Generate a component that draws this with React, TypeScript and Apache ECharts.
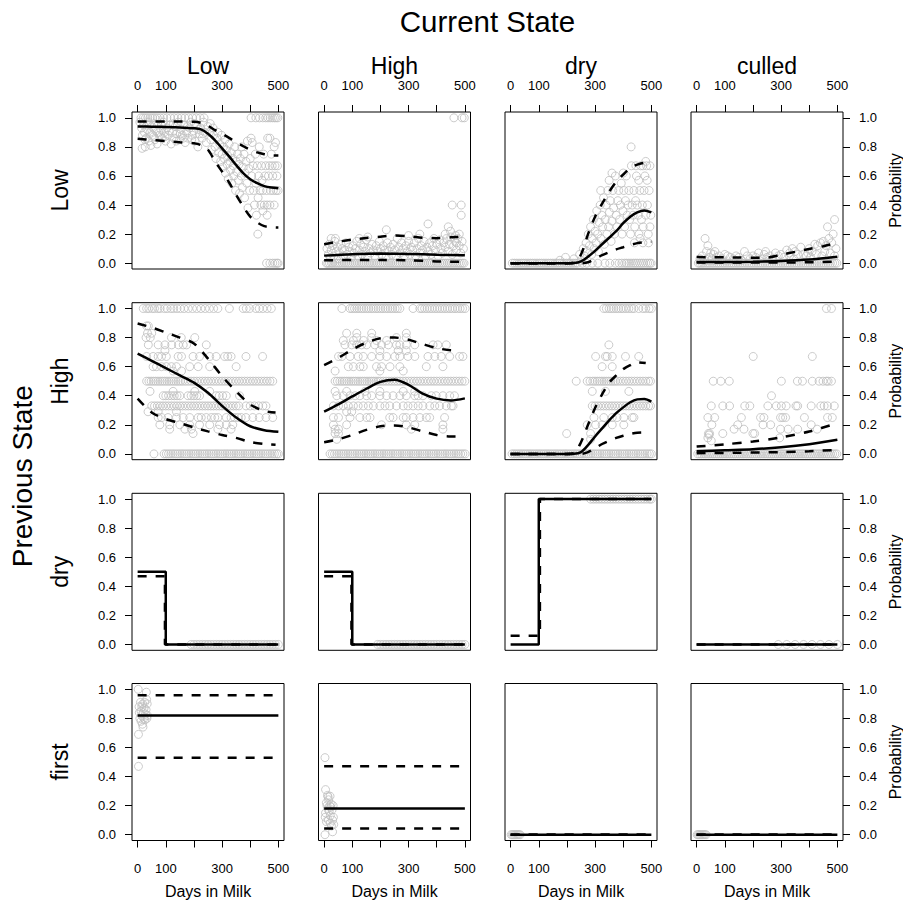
import React, { useEffect, useRef } from "react";
import * as echarts from "echarts";

type Pt = [number, number];
type Row = [number, number[]]; // [y, x values]

const ROW_NAMES = ["Low", "High", "dry", "first"];
const COL_NAMES = ["Low", "High", "dry", "culled"];
const X_TICKS = [0, 100, 200, 300, 400, 500];
const X_LABELS = [0, 100, 300, 500];
const Y_TICKS = [0, 0.2, 0.4, 0.6, 0.8, 1.0];

// ---------- Previous Low ----------
const LL_pts: Pt[] = [
  [8,0.97],[14,0.93],[16,0.79],[17,0.88],[21,0.95],[24,0.9],[26,0.85],[27,0.8],[30,0.86],[33,0.92],[37,0.97],[40,0.84],[42,0.95],[44,0.9],[47,0.81],[50,0.94],[54,0.88],[57,0.87],[58,0.96],[62,0.85],[65,0.91],[69,0.82],[72,0.95],[75,0.9],[77,0.88],[82,0.92],[85,0.95],[87,0.86],[91,0.97],[95,0.9],[97,0.87],[99,0.84],[104,0.93],[109,0.88],[112,0.91],[114,0.95],[119,0.82],[124,0.9],[127,0.96],[129,0.86],[134,0.94],[137,0.84],[139,0.89],[144,0.97],[149,0.85],[152,0.89],[154,0.92],[159,0.88],[162,0.86],[164,0.95],[169,0.83],[174,0.9],[177,0.94],[179,0.86],[184,0.93],[189,0.97],[192,0.85],[194,0.88],[199,0.91],[202,0.96],[204,0.84],[209,0.95],[214,0.8],[217,0.92],[219,0.89],[224,0.93],[229,0.86],[232,0.89],[234,0.97],[239,0.9],[244,0.83],[249,0.94],
  [255,0.9],[258,0.96],[260,0.85],[262,0.78],[268,0.93],[270,0.88],[275,0.8],[278,0.72],[282,0.86],[285,0.9],[288,0.76],[292,0.82],[295,0.7],[298,0.88],[300,0.75],[302,0.66],[305,0.8],[308,0.72],[310,0.85],[312,0.62],[315,0.78],[318,0.68],[320,0.74],[322,0.58],[325,0.82],[328,0.7],[330,0.64],[333,0.76],[335,0.55],[338,0.72],[340,0.67],[342,0.6],[345,0.8],[348,0.5],[350,0.7],[352,0.63],[355,0.75],[358,0.57],[360,0.68],[362,0.48],[365,0.72],[368,0.6],[370,0.8],[372,0.52],[375,0.66],[378,0.75],[380,0.45],[382,0.62],[385,0.7],[388,0.55],[390,0.84],[392,0.38],[395,0.65],[398,0.5],[400,0.72],[403,0.86],[407,0.83],
  [405,0.6],[410,0.67],[412,0.5],[415,0.4],[418,0.75],[420,0.55],[422,0.33],[425,0.67],[427,0.2],[428,0.45],[430,0.6],[432,0.8],[435,0.5],[438,0.4],[440,0.67],[442,0.57],[445,0.5],[448,0.75],[450,0.4],[452,0.6],[455,0.67],[458,0.5],[460,0.33],[462,0.86],[465,0.6],[468,0.67],[470,0.4],[472,0.5],[475,0.75],[478,0.67],[480,0.6],[482,0.5],[485,0.4],[488,0.67],[490,0.83],[492,0.5],[495,0.6],[497,0.67],[499,0.5],[485,0.8],[470,0.86],[445,0.36],[460,0.4]
];
const LL_rows: Row[] = [
  [1, [12,20,28,36,45,53,61,70,80,92,104,117,130,143,156,168,181,195,208,222,236,403,420,433,445,455,463,471,479,486,492,498]],
  [0, [458,470,480,488,495,499]]
];
const LL_fit: Pt[] = [[0,0.94],[50,0.939],[100,0.937],[150,0.934],[200,0.928],[225,0.92],[250,0.89],[275,0.845],[300,0.79],[325,0.735],[350,0.675],[375,0.62],[400,0.578],[425,0.55],[450,0.53],[475,0.52],[500,0.515]];
const LL_up: Pt[] = [[0,0.975],[50,0.975],[100,0.975],[150,0.974],[200,0.973],[225,0.965],[250,0.945],[275,0.915],[300,0.89],[325,0.862],[350,0.832],[375,0.805],[400,0.78],[425,0.762],[450,0.75],[475,0.742],[500,0.74]];
const LL_lo: Pt[] = [[0,0.856],[50,0.848],[100,0.84],[150,0.832],[200,0.825],[225,0.812],[250,0.78],[275,0.7],[300,0.63],[325,0.555],[350,0.47],[375,0.39],[400,0.32],[425,0.28],[450,0.255],[475,0.247],[500,0.245]];

const LH_pts: Pt[] = [
  [10,0.1],[15,0.06],[18,0.13],[22,0.04],[25,0.09],[30,0.12],[34,0.05],[38,0.15],[42,0.08],[47,0.11],[50,0.03],[55,0.07],[60,0.13],[64,0.1],[68,0.05],[73,0.09],[78,0.14],[82,0.06],[88,0.11],[92,0.08],[97,0.04],[102,0.12],[106,0.07],[111,0.1],[116,0.15],[120,0.05],[125,0.09],[130,0.13],[135,0.06],[140,0.11],[145,0.08],[150,0.16],[155,0.04],[160,0.1],[165,0.07],[170,0.13],[175,0.09],[180,0.05],[185,0.12],[190,0.08],[196,0.15],[200,0.1],[205,0.06],[210,0.12],[215,0.09],[220,0.04],[225,0.14],[230,0.08],[235,0.11],[240,0.06],[245,0.13],[250,0.09],[255,0.05],[260,0.17],[265,0.11],[270,0.07],[275,0.14],[280,0.1],[285,0.05],[290,0.12],[295,0.08],[300,0.15],[305,0.06],[310,0.11],[315,0.09],[320,0.14],[325,0.05],[330,0.1],[335,0.17],[340,0.07],[345,0.12],[350,0.09],[355,0.15],[360,0.05],[365,0.11],[370,0.08],[375,0.14],[380,0.06],[385,0.12],[390,0.17],[395,0.09],[400,0.13],[405,0.05],[410,0.16],[415,0.1],[420,0.07],[425,0.14],[430,0.11],[435,0.17],[440,0.08],[445,0.13],[450,0.18],[455,0.06],[460,0.12],[465,0.15],[470,0.09],[475,0.17],[480,0.12],[485,0.07],[490,0.15],[495,0.1],
  [221,0.23],[369,0.27],[441,0.25],[449,0.22],[470,0.14],[455,0.4],[487,0.4],[487,0.33],[25,0.17],[40,0.17],[125,0.17],[155,0.18],[300,0.19],[340,0.2],[430,0.2],[480,0.2],[467,0.19]
];
const LH_rows: Row[] = [
  [1, [461,490,498]],
  [0, [8,13,19,26,31,38,44,51,57,64,71,77,84,90,97,104,110,117,124,131,137,143,150,157,163,170,177,184,190,197,203,210,217,224,231,237,244,251,257,264,270,277,284,291,297,304,311,318,324,331,337,344,351,357,364,371,378,384,391,398,404,411,418,424,431,438,444,451,458,464,471,478,484,491,497]]
];
const LH_fit: Pt[] = [[0,0.052],[100,0.062],[200,0.066],[300,0.064],[400,0.058],[500,0.055]];
const LH_up: Pt[] = [[0,0.13],[50,0.148],[100,0.162],[150,0.173],[200,0.182],[250,0.19],[300,0.186],[350,0.175],[400,0.172],[450,0.178],[500,0.185]];
const LH_lo: Pt[] = [[0,0.02],[100,0.022],[200,0.022],[300,0.02],[400,0.012],[500,0.01]];

const LD_pts: Pt[] = [
  [195,0.04],[175,0.02],[225,0.03],[245,0.06],[250,0.02],[258,0.1],[262,0.05],[268,0.14],[272,0.08],[276,0.2],[280,0.12],[284,0.25],[288,0.06],[290,0.17],[294,0.3],[297,0.1],[300,0.22],[303,0.14],[306,0.36],[309,0.2],[312,0.08],[315,0.28],[318,0.4],[321,0.17],[324,0.33],[327,0.25],[330,0.45],[333,0.13],[336,0.3],[339,0.4],[342,0.2],[345,0.5],[348,0.25],[351,0.35],[354,0.43],[357,0.15],[360,0.29],[363,0.5],[366,0.38],[369,0.2],[372,0.6],[375,0.33],[378,0.25],[381,0.43],[384,0.5],[387,0.3],[390,0.4],[393,0.55],[396,0.2],[399,0.36],[402,0.5],[405,0.25],[408,0.43],[411,0.6],[414,0.33],[417,0.4],[420,0.5],[423,0.3],[426,0.2],[429,0.67],[432,0.4],[435,0.33],[438,0.5],[441,0.25],[444,0.43],[447,0.6],[450,0.4],[453,0.33],[456,0.2],[459,0.5],[462,0.67],[465,0.3],[468,0.4],[471,0.25],[474,0.5],[477,0.6],[480,0.33],[483,0.67],[486,0.4],[489,0.2],[492,0.5],[495,0.25],[498,0.33],
  [428,0.8],[480,0.7],[350,0.57],[400,0.62],[460,0.17],[490,0.14],[440,0.14],[470,0.14],[445,0.67],[470,0.67],[495,0.67],[455,0.57],[485,0.57],[320,0.5],[360,0.62]
];
const LD_rows: Row[] = [
  [0, [6,14,22,30,38,46,54,62,70,78,86,94,102,110,118,126,134,142,150,158,166,174,182,190,198,206,214,222,230,238,255,270,290,310,335,352,372,385,395,405,412,420,428,436,443,450,458,465,472,480,487,494,499]]
];
const LD_fit: Pt[] = [[0,0],[50,0],[100,0],[150,0],[200,0],[225,0.001],[250,0.012],[275,0.045],[300,0.085],[325,0.13],[350,0.175],[375,0.22],[400,0.275],[425,0.32],[450,0.35],[475,0.362],[500,0.35]];
const LD_up: Pt[] = [[0,0],[50,0],[100,0],[150,0],[200,0],[225,0.005],[250,0.06],[275,0.2],[300,0.32],[325,0.41],[350,0.49],[375,0.56],[400,0.61],[425,0.655],[450,0.678],[475,0.69],[500,0.69]];
const LD_lo: Pt[] = [[0,0],[50,0],[100,0],[150,0],[200,0],[250,0],[275,0.006],[300,0.03],[325,0.055],[350,0.075],[375,0.095],[400,0.11],[425,0.125],[450,0.138],[475,0.145],[500,0.147]];

const LC_pts: Pt[] = [
  [30,0.17],[40,0.12],[35,0.08],[50,0.07],[60,0.06],[80,0.05],[100,0.06],[120,0.04],[140,0.05],[170,0.08],[200,0.05],[220,0.07],[240,0.06],[260,0.05],[280,0.07],[300,0.06],[320,0.09],[340,0.1],[350,0.08],[370,0.11],[380,0.06],[400,0.1],[410,0.08],[420,0.13],[430,0.12],[440,0.14],[450,0.15],[460,0.12],[465,0.25],[470,0.17],[480,0.14],[485,0.2],[490,0.3],[495,0.1],
  [12,0.03],[20,0.05],[28,0.02],[45,0.04],[55,0.03],[70,0.04],[90,0.03],[110,0.05],[130,0.03],[150,0.04],[160,0.02],[180,0.05],[190,0.03],[210,0.04],[230,0.03],[250,0.04],[270,0.03],[290,0.05],[310,0.04],[330,0.05],[345,0.03],[360,0.06],[390,0.05],[405,0.04],[425,0.06],[445,0.05],[455,0.08],[475,0.07],[490,0.05],[65,0.08],[245,0.08],[330,0.07],[395,0.07]
];
const LC_rows: Row[] = [
  [0, [6,12,19,25,33,40,47,55,62,70,77,85,93,100,108,116,124,131,139,147,155,163,171,179,187,195,203,211,219,227,235,243,251,259,267,275,283,291,299,307,315,323,331,339,347,355,363,371,379,387,395,403,411,419,427,435,443,451,459,467,475,483,491,498]]
];
const LC_fit: Pt[] = [[0,0.008],[100,0.008],[200,0.01],[300,0.015],[400,0.025],[500,0.045]];
const LC_up: Pt[] = [[0,0.042],[50,0.041],[100,0.04],[150,0.039],[200,0.038],[250,0.039],[300,0.058],[350,0.078],[400,0.098],[450,0.117],[500,0.142]];
const LC_lo: Pt[] = [[0,0.004],[250,0.004],[400,0.006],[500,0.01]];

// ---------- Previous High ----------
const HL_pts: Pt[] = [];
const HL_rows: Row[] = [
  [1, [20,32,40,52,60,72,80,95,105,118,128,140,152,165,180,195,210,225,240,255,270,285,326,375,386,398,420,432,445,460,475]],
  [0.88, [32,38]],
  [0.83, [35,50]],
  [0.8, [30,45,120,155,203]],
  [0.75, [38,73,97,121,145,162,174,244]],
  [0.71, [97]],
  [0.67, [32,55,73,85,102,144,156,197,220,256,279,309,320,332,385,444]],
  [0.6, [55,67,85,102,120,138,185,215,256,350]],
  [0.57, [126,156]],
  [0.5, [32,40,48,56,64,72,80,88,96,104,112,120,128,136,144,152,160,170,180,190,200,210,220,230,240,250,260,270,280,290,300,310,320,330,340,350,360,370,380,390,400,410,420,430,440,450,460,470,480]],
  [0.43, [44,126,203,256]],
  [0.4, [91,100,110,120,130,140,150,179,190,200,210,220,279,290,302,315,362]],
  [0.33, [50,60,70,80,90,100,110,120,130,140,150,160,170,180,190,200,210,220,230,240,250,260,270,280,290,300,310,320,330,340,350,360,385,400,415,430,445,456]],
  [0.29, [37,73,138]],
  [0.25, [73,85,108,138,162,185,215,226,244,262,274,285,315,332,344,356,368,385,409,432,456,480]],
  [0.2, [79,114,150,185,220,256,291,315,338]],
  [0.17, [114,168,191,285,332]],
  [0.14, [197]],
  [0, [58,94,102,110,118,126,134,142,150,158,166,174,182,190,198,206,214,222,230,238,246,254,262,270,278,286,294,302,310,318,326,334,342,350,358,366,374,382,390,398,406,414,422,430,438,446,454,462,470,478,486,494,500]]
];
const HL_fit: Pt[] = [[0,0.69],[50,0.64],[100,0.59],[150,0.54],[200,0.49],[250,0.42],[300,0.33],[350,0.25],[400,0.19],[450,0.163],[500,0.152]];
const HL_up: Pt[] = [[0,0.897],[50,0.87],[100,0.835],[150,0.8],[200,0.76],[250,0.655],[300,0.535],[350,0.43],[400,0.34],[450,0.295],[490,0.285]];
const HL_lo: Pt[] = [[0,0.38],[50,0.285],[100,0.24],[150,0.212],[200,0.182],[250,0.155],[300,0.13],[350,0.11],[400,0.082],[450,0.068],[490,0.062]];

const HH_pts: Pt[] = [];
const HH_rows: Row[] = [
  [1, [63,92,100,108,116,124,133,141,150,158,167,175,184,192,201,209,218,226,235,243,252,260,269,316,340,348,357,366,375,384,393,402,411,420,429,438,447,456,465,474,483,492,501]],
  [0.83, [80,116,169,292]],
  [0.8, [116,169,257,292]],
  [0.78, [68,104,140,186,222]],
  [0.75, [74,98,116,133,151,180,204,228,257,269,292,322,387,404,434]],
  [0.71, [198,263,292]],
  [0.67, [51,63,92,121,139,169,198,222,251,269,298,322,369,393,416,446,481,493]],
  [0.6, [86,104,127,139,186,204,234,269,363,422]],
  [0.57, [39,198,281]],
  [0.5, [39,47,56,64,72,80,88,96,104,112,120,128,136,144,152,160,168,176,184,192,200,210,220,230,240,250,260,270,280,290,300,310,320,330,340,350,360,370,380,390,400,410,420,430,440,450,460,470,480,490,500]],
  [0.43, [39,80,145,198,281,322]],
  [0.4, [45,68,92,110,127,151,169,198,222,245,269,292,322,334,351,381,398,422,446,463]],
  [0.33, [33,51,68,86,104,121,139,157,175,198,216,233,257,281,298,316,334,351,375,393,410,434,452,458]],
  [0.29, [80,98]],
  [0.25, [33,51,92,127,151,163,233,245,281,292,316,340,363,375,428]],
  [0.2, [33,80,204,292,322,422]],
  [0.17, [39,51,310,422]],
  [0.14, [39,51]],
  [0.1, [45]],
  [0, [21,29,37,45,53,61,69,77,85,93,101,109,117,125,133,141,149,157,165,173,181,189,197,205,213,221,229,237,245,253,261,269,277,285,293,301,309,317,325,333,341,349,357,365,373,381,389,397,405,413,421,429,437,445,453,461,469,477,485,493,501]]
];
const HH_fit: Pt[] = [[0,0.29],[50,0.34],[100,0.395],[150,0.448],[200,0.495],[250,0.51],[300,0.475],[350,0.415],[400,0.38],[450,0.368],[500,0.382]];
const HH_up: Pt[] = [[0,0.61],[50,0.66],[100,0.718],[150,0.765],[200,0.795],[250,0.8],[300,0.785],[350,0.755],[400,0.728],[450,0.713],[480,0.712]];
const HH_lo: Pt[] = [[0,0.08],[50,0.1],[100,0.13],[150,0.165],[200,0.19],[250,0.195],[300,0.182],[350,0.155],[400,0.13],[450,0.12],[480,0.12]];

const HD_pts: Pt[] = [[199,0.14],[284,0.14],[284,0.1]];
const HD_rows: Row[] = [
  [1, [331,340,350,358,366,375,383,392,400,410,420,430,438,455,470,480,492,500]],
  [0.75, [349]],
  [0.67, [302,337,343,361,408,455]],
  [0.6, [325,361]],
  [0.5, [233,272,282,292,300,308,316,324,332,340,348,356,364,372,380,390,400,410,420,430,440,450,460,470,480,490,497]],
  [0.43, [290,337,420]],
  [0.33, [290,300,310,320,330,340,350,360,370,380,390,400,410,420,430,440,450,460,470,480,490,497]],
  [0.25, [296,331,361,378,402,432,438]],
  [0.2, [272,302,325,361,402]],
  [0, [5,13,21,29,37,45,53,61,69,77,85,93,101,109,117,125,133,141,149,157,165,173,181,189,197,205,213,221,229,237,245,253,261,269,277,285,293,301,309,317,325,333,341,349,357,365,373,381,389,397,405,413,421,429,437,445,453,461,469,477,485,493,500]]
];
const HD_fit: Pt[] = [[0,0],[50,0],[100,0],[150,0],[200,0],[225,0.001],[250,0.012],[275,0.06],[300,0.12],[325,0.175],[350,0.23],[375,0.28],[400,0.32],[425,0.355],[450,0.375],[475,0.378],[500,0.36]];
const HD_up: Pt[] = [[0,0],[50,0],[100,0],[150,0],[200,0],[225,0.005],[250,0.08],[275,0.2],[300,0.315],[325,0.41],[350,0.49],[375,0.54],[400,0.583],[425,0.61],[450,0.63],[480,0.625]];
const HD_lo: Pt[] = [[0,0],[50,0],[100,0],[150,0],[200,0],[250,0],[275,0.012],[300,0.038],[325,0.068],[350,0.09],[375,0.11],[400,0.125],[425,0.137],[450,0.145],[480,0.147]];

const HC_pts: Pt[] = [[40,0.11],[52,0.09],[42,0.14],[44,0.13],[295,0.11],[266,0.4]];
const HC_rows: Row[] = [
  [1, [461,479]],
  [0.67, [201,411]],
  [0.5, [59,86,116,301,358,376,411,435,449,461,467,479]],
  [0.33, [52,93,117,171,189,253,283,301,318,353,359,407,441,453,465,489]],
  [0.25, [40,64,159,227,239,298,306,316,383,465,482]],
  [0.2, [54,146,236,263,407]],
  [0.17, [133,168,298,325,359,428]],
  [0.14, [46,93,200,206]],
  [0, [4,11,18,26,33,41,48,56,63,71,78,86,93,101,108,116,123,131,138,146,153,161,168,176,183,191,198,206,213,221,228,236,243,251,258,266,273,281,288,296,303,311,318,326,333,341,348,356,363,371,378,386,393,401,408,416,423,431,438,446,453,461,468,476,483,491,498]]
];
const HC_fit: Pt[] = [[0,0.018],[100,0.025],[200,0.032],[300,0.045],[400,0.066],[500,0.097]];
const HC_up: Pt[] = [[0,0.05],[100,0.066],[200,0.085],[300,0.114],[400,0.154],[500,0.212]];
const HC_lo: Pt[] = [[0,0.005],[150,0.008],[300,0.012],[400,0.018],[500,0.028]];

// ---------- Previous dry ----------
const DL_rows: Row[] = [[0, [190,200,210,220,230,240,250,260,270,280,290,300,310,320,330,340,350,360,370,380,390,400,410,420,430,440,450,460,470,480,490,500]]];
const DL_fit: Pt[] = [[0,0.5],[100,0.5],[100,0],[500,0]];
const DL_lo: Pt[] = [[0,0.47],[97,0.47],[97,0],[500,0]];
const DH_rows: Row[] = [[0, [190,200,210,220,230,240,250,260,270,280,290,300,310,320,330,340,350,360,370,380,390,400,410,420,430,440,450,460,470,480,490,500]]];
const DH_fit: Pt[] = [[0,0.5],[100,0.5],[100,0],[500,0]];
const DH_lo: Pt[] = [[0,0.47],[97,0.47],[97,0],[500,0]];
const DD_rows: Row[] = [[1, [284,294,304,314,324,334,344,354,364,374,384,394,404,414,424,434,444,454,464,474,484,494,500]]];
const DD_fit: Pt[] = [[0,0],[100,0],[100,1],[500,1]];
const DD_lo: Pt[] = [[0,0.06],[104,0.06],[104,1],[500,1]];
const DC_rows: Row[] = [[0, [290,320,350,380,410,440,470,500]]];
const DC_fit: Pt[] = [[0,0],[500,0]];
const DC_lo: Pt[] = [[0,0],[500,0]];

// ---------- Previous first ----------
const FL_pts: Pt[] = [[2,1.0],[3,0.69],[3,0.47],[5,0.88],[6,0.84],[8,0.8],[10,0.91],[12,0.85],[12,0.78],[14,0.82],[15,0.88],[17,0.76],[18,0.9],[19,0.74],[20,0.84],[22,0.8],[23,0.87],[25,0.91],[26,0.79],[28,0.83],[30,0.86],[31,0.98],[32,0.93],[33,0.8],[34,0.9],[35,0.82]];
const FL_fit: Pt[] = [[0,0.82],[500,0.82]];
const FL_up: Pt[] = [[0,0.96],[500,0.96]];
const FL_lo: Pt[] = [[0,0.53],[500,0.53]];
const FH_pts: Pt[] = [[3,0.53],[5,0.31],[3,0.0],[5,0.15],[4,0.12],[8,0.22],[10,0.2],[12,0.18],[14,0.26],[15,0.1],[16,0.24],[18,0.16],[20,0.2],[22,0.08],[22,0.13],[24,0.19],[25,0.21],[26,0.06],[28,0.17],[30,0.1],[30,0.02],[32,0.2],[33,0.12],[34,0.07],[12,0.27],[8,0.09],[21,0.265]];
const FH_fit: Pt[] = [[0,0.18],[500,0.18]];
const FH_up: Pt[] = [[0,0.47],[500,0.47]];
const FH_lo: Pt[] = [[0,0.042],[500,0.042]];
const FD_rows: Row[] = [[0, [2,6,10,14,18,22,26,30,34]]];
const FD_fit: Pt[] = [[0,0],[500,0]];
const FC_rows: Row[] = [[0, [2,6,10,14,18,22,26,30,34]]];
const FC_fit: Pt[] = [[0,0],[500,0]];

interface Panel { pts: Pt[]; rows: Row[]; fit: Pt[]; up: Pt[]; lo: Pt[]; smooth: boolean; }
const PANELS: Panel[][] = [
  [
    { pts: LL_pts, rows: LL_rows, fit: LL_fit, up: LL_up, lo: LL_lo, smooth: true },
    { pts: LH_pts, rows: LH_rows, fit: LH_fit, up: LH_up, lo: LH_lo, smooth: true },
    { pts: LD_pts, rows: LD_rows, fit: LD_fit, up: LD_up, lo: LD_lo, smooth: true },
    { pts: LC_pts, rows: LC_rows, fit: LC_fit, up: LC_up, lo: LC_lo, smooth: true },
  ],
  [
    { pts: HL_pts, rows: HL_rows, fit: HL_fit, up: HL_up, lo: HL_lo, smooth: true },
    { pts: HH_pts, rows: HH_rows, fit: HH_fit, up: HH_up, lo: HH_lo, smooth: true },
    { pts: HD_pts, rows: HD_rows, fit: HD_fit, up: HD_up, lo: HD_lo, smooth: true },
    { pts: HC_pts, rows: HC_rows, fit: HC_fit, up: HC_up, lo: HC_lo, smooth: true },
  ],
  [
    { pts: [], rows: DL_rows, fit: DL_fit, up: [], lo: DL_lo, smooth: false },
    { pts: [], rows: DH_rows, fit: DH_fit, up: [], lo: DH_lo, smooth: false },
    { pts: [], rows: DD_rows, fit: DD_fit, up: [], lo: DD_lo, smooth: false },
    { pts: [], rows: DC_rows, fit: DC_fit, up: [], lo: DC_lo, smooth: false },
  ],
  [
    { pts: FL_pts, rows: [], fit: FL_fit, up: FL_up, lo: FL_lo, smooth: false },
    { pts: FH_pts, rows: [], fit: FH_fit, up: FH_up, lo: FH_lo, smooth: false },
    { pts: [], rows: FD_rows, fit: FD_fit, up: FD_fit, lo: FD_fit, smooth: false },
    { pts: [], rows: FC_rows, fit: FC_fit, up: FC_fit, lo: FC_fit, smooth: false },
  ],
];

const FONT = "'Liberation Sans', Arial, Helvetica, sans-serif";
const GL = [132, 318.5, 505, 691];
const GT = [112, 302.7, 493.3, 683.5];
const PW = 152;
const PH = 157;

function expand(rows: Row[]): Pt[] {
  const out: Pt[] = [];
  rows.forEach(([y, xs]) => xs.forEach((x) => out.push([x, y])));
  return out;
}

function txt(text: string, x: number, y: number, size: number, rot = 0) {
  return {
    type: "text", x, y, rotation: rot, silent: true,
    style: {
      text, fill: "#000", fontSize: size, fontFamily: FONT,
      align: "center", verticalAlign: "middle",
      textAlign: "center", textVerticalAlign: "middle",
    },
  };
}

export default function App() {
  const ref = useRef<HTMLDivElement>(null);
  useEffect(() => {
    const chart = echarts.init(ref.current!, null, { renderer: "svg" });
    const grid: any[] = [], xAxis: any[] = [], yAxis: any[] = [], series: any[] = [];
    PANELS.forEach((row, r) => row.forEach((p, c) => {
      const i = r * 4 + c;
      grid.push({ left: GL[c], top: GT[r], width: PW, height: PH, show: true, borderColor: "#000", borderWidth: 1, backgroundColor: "transparent" });
      const showX = r === 0 || r === 3;
      xAxis.push({
        type: "value", gridIndex: i, min: -20, max: 520, position: r === 0 ? "top" : "bottom",
        axisLine: { show: false, onZero: false }, splitLine: { show: false },
        axisTick: { show: showX, length: 7, inside: false, lineStyle: { color: "#000", width: 1 }, customValues: X_TICKS },
        axisLabel: { show: showX, customValues: X_LABELS, fontSize: 13, color: "#000", margin: r === 0 ? 20 : 21, fontFamily: FONT },
      });
      const showY = c === 0 || c === 3;
      yAxis.push({
        type: "value", gridIndex: i, min: -0.04, max: 1.04, position: c === 3 ? "right" : "left",
        axisLine: { show: false, onZero: false }, splitLine: { show: false },
        axisTick: { show: showY, length: 7, inside: false, lineStyle: { color: "#000", width: 1 }, customValues: Y_TICKS },
        axisLabel: { show: showY, customValues: Y_TICKS, fontSize: 13, color: "#000", margin: 16, fontFamily: FONT,
          formatter: (v: number) => v.toFixed(1) },
      });
      const pts = p.pts.concat(expand(p.rows));
      series.push({
        type: "scatter", xAxisIndex: i, yAxisIndex: i, data: pts, symbol: "circle", symbolSize: 8, z: 2,
        itemStyle: { color: "rgba(0,0,0,0)", borderColor: "#bebebe", borderWidth: 1 }, silent: true,
      });
      const lineBase = { type: "line", xAxisIndex: i, yAxisIndex: i, showSymbol: false, symbol: "none", silent: true, z: 3,
        smooth: p.smooth ? 0.3 : false };
      if (p.up.length) series.push({ ...lineBase, data: p.up, lineStyle: { color: "#000", width: 2.5, type: [9, 9], cap: "butt" } });
      if (p.lo.length) series.push({ ...lineBase, data: p.lo, lineStyle: { color: "#000", width: 2.5, type: [9, 9], cap: "butt" } });
      series.push({ ...lineBase, data: p.fit, z: 4, lineStyle: { color: "#000", width: 2.5, type: "solid" } });
    }));

    const graphic: any[] = [txt("Current State", 487.5, 21, 29.5)];
    COL_NAMES.forEach((n, c) => {
      graphic.push(txt(n, GL[c] + PW / 2, 66, 23));
      graphic.push(txt("Days in Milk", GL[c] + PW / 2, 891, 16));
    });
    ROW_NAMES.forEach((n, r) => {
      graphic.push(txt(n, 60, GT[r] + PH / 2, 23, Math.PI / 2));
      graphic.push(txt("Probability", 895, GT[r] + PH / 2, 16, Math.PI / 2));
    });
    graphic.push(txt("Previous State", 22, (GT[0] + GT[3] + PH) / 2, 28, Math.PI / 2));

    chart.setOption({
      animation: false,
      backgroundColor: "#fff",
      textStyle: { fontFamily: FONT },
      grid, xAxis, yAxis, series, graphic,
    });
    return () => chart.dispose();
  }, []);
  return <div ref={ref} style={{ position: "absolute", left: 0, top: 0, width: 903, height: 902 }} />;
}
